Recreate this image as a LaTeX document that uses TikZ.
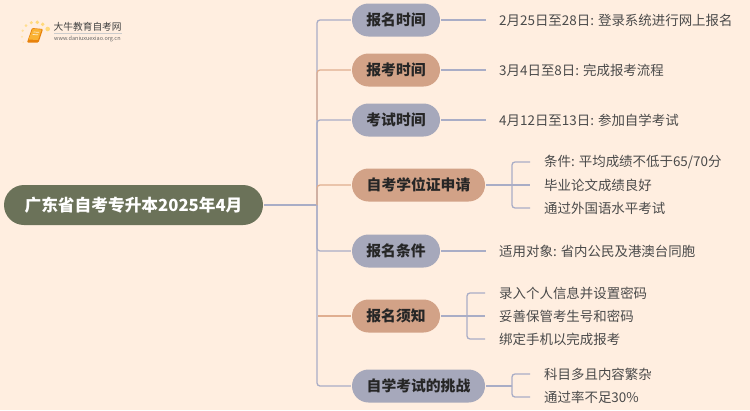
\documentclass[tikz,border=0pt]{standalone}
\usepackage{fontspec}
\setmainfont{Noto Sans CJK SC}
\usetikzlibrary{shapes.misc,calc}
\definecolor{bgc}{HTML}{FFEEE0}
\definecolor{rootc}{HTML}{6B7259}
\definecolor{bluec}{HTML}{A6A8BB}
\definecolor{orgc}{HTML}{D2A287}
\definecolor{linec}{HTML}{A9ADC6}
\definecolor{olinec}{HTML}{E0AE90}
\definecolor{leafc}{HTML}{4A4A4A}
\definecolor{dotc}{HTML}{FFD97A}
\definecolor{bookd}{HTML}{E8820C}
\definecolor{bookl}{HTML}{F9B233}
\tikzset{x=1pt,y=-1pt,
 pill/.style={rounded rectangle,rounded rectangle arc length=180,minimum height=33pt,inner sep=0pt,font=\bfseries\fontsize{14.8}{15}\selectfont,text=black!85},
 bl/.style={pill,fill=bluec},
 og/.style={pill,fill=orgc},
 leaf/.style={anchor=west,inner sep=0pt,font=\fontsize{13.45}{15}\selectfont,text=leafc},
 conn/.style={draw=linec,line width=1.3pt,rounded corners=3pt},
 oconn/.style={draw=olinec,line width=1.3pt,rounded corners=3pt}}
\begin{document}
\begin{tikzpicture}
\useasboundingbox (0,0) rectangle (750,410);
\fill[bgc] (0,0) rectangle (750,410);
% logo
\foreach \x/\y/\r/\o in {23.3/42.3/.9/35,22/36.7/1.1/50,22.7/30.7/1.3/65,26/25.7/1.5/80,31.3/22.7/1.7/90,37.3/22.3/1.9/100,42.7/24.3/1.9/100,47.7/29/2.3/100}{\fill[dotc,opacity=\o/100] (\x,\y) circle (\r);}
\fill[bookd,rounded corners=1pt] (27,42.5) -- (38.5,42.5) -- (43,29) -- (32,28) -- cycle;
\fill[bookl] (28.5,39.5) -- (38,40) -- (41.5,29.5) -- (32.8,28.8) -- cycle;
\draw[white!75!bookl,line width=.7pt] (33.5,32) -- (39,32.3) (32.7,34.5) -- (38,34.8);
\node[anchor=west,inner sep=0pt,font=\fontsize{9.7}{10}\selectfont,text=black!75] (lt) at (53.5,27) {大牛教育自考网};
\draw[black!20,line width=.4pt] (54,33.5) -- (122,33.5);
\node[anchor=west,inner sep=0pt,font=\fontsize{5.5}{6}\selectfont,text=black!60] (lu) at (54,38.8) {www.daniuxuexiao.org.cn};
% nodes
\node[pill,fill=rootc,text=white,minimum width=259pt,minimum height=40pt,font=\bfseries\fontsize{16.7}{17}\selectfont] (root) at (133.5,205) {广东省自考专升本2025年4月};
\node[bl,minimum width=88pt] (b1) at (396,20) {报名时间};
\node[og,minimum width=88pt] (b2) at (396,70) {报考时间};
\node[bl,minimum width=88pt] (b3) at (396,120) {考试时间};
\node[og,minimum width=133pt] (b4) at (418.5,185) {自考学位证申请};
\node[bl,minimum width=88pt] (b5) at (396,251) {报名条件};
\node[og,minimum width=88pt] (b6) at (396,316) {报名须知};
\node[bl,minimum width=133pt] (b7) at (418.5,386) {自学考试的挑战};
\node[leaf] (l1) at (499,20) {2月25日至28日: 登录系统进行网上报名};
\node[leaf] (l2) at (499,70) {3月4日至8日: 完成报考流程};
\node[leaf] (l3) at (499,120) {4月12日至13日: 参加自学考试};
\node[leaf] (l4a) at (544,162) {条件: 平均成绩不低于65/70分};
\node[leaf] (l4b) at (544,185) {毕业论文成绩良好};
\node[leaf] (l4c) at (544,208) {通过外国语水平考试};
\node[leaf] (l5) at (499,251) {适用对象: 省内公民及港澳台同胞};
\node[leaf] (l6a) at (499,293) {录入个人信息并设置密码};
\node[leaf] (l6b) at (499,316) {妥善保管考生号和密码};
\node[leaf] (l6c) at (499,339) {绑定手机以完成报考};
\node[leaf] (l7a) at (544,374) {科目多且内容繁杂};
\node[leaf] (l7b) at (544,397) {通过率不足30\%};
% trunk
\coordinate (sp) at (317,205);
\draw[conn] ($(root.east)+(1,0)$) -- (sp);
\draw[conn] ($(b1.west)+(-1,0)$) -| (sp);
\draw[conn] ($(b3.west)+(-1,0)$) -| (sp);
\draw[conn] ($(b5.west)+(-1,0)$) -| (sp);
\draw[conn] ($(b7.west)+(-1,0)$) -| (sp);
\draw[oconn] ($(b2.west)+(-1,0)$) -| (317,120);
\draw[oconn] ($(b4.west)+(-1,0)$) -| (sp);
\draw[oconn] ($(b6.west)+(-1,0)$) -- (318,316);
% right connectors
\foreach \a/\b in {b1/l1,b2/l2,b3/l3,b5/l5}{
 \draw[conn] ($(\a.east)+(1,0)$) -- ($(\b.west)+(-13,0)$);
}
\coordinate (j4) at (512,185);
\coordinate (j6) at (467,316);
\coordinate (j7) at (512,386);
\draw[conn] ($(b4.east)+(1,0)$) -- ($(l4b.west)+(-14,0)$);
\foreach \b in {l4a,l4c}{\draw[conn] (j4) |- ($(\b.west)+(-14,0)$);}
\draw[conn] ($(b6.east)+(1,0)$) -- ($(l6b.west)+(-14,0)$);
\foreach \b in {l6a,l6c}{\draw[conn] (j6) |- ($(\b.west)+(-14,0)$);}
\draw[conn] ($(b7.east)+(1,0)$) -- (j7);
\foreach \b in {l7a,l7b}{\draw[conn] (j7) |- ($(\b.west)+(-14,0)$);}
\end{tikzpicture}
\end{document}
